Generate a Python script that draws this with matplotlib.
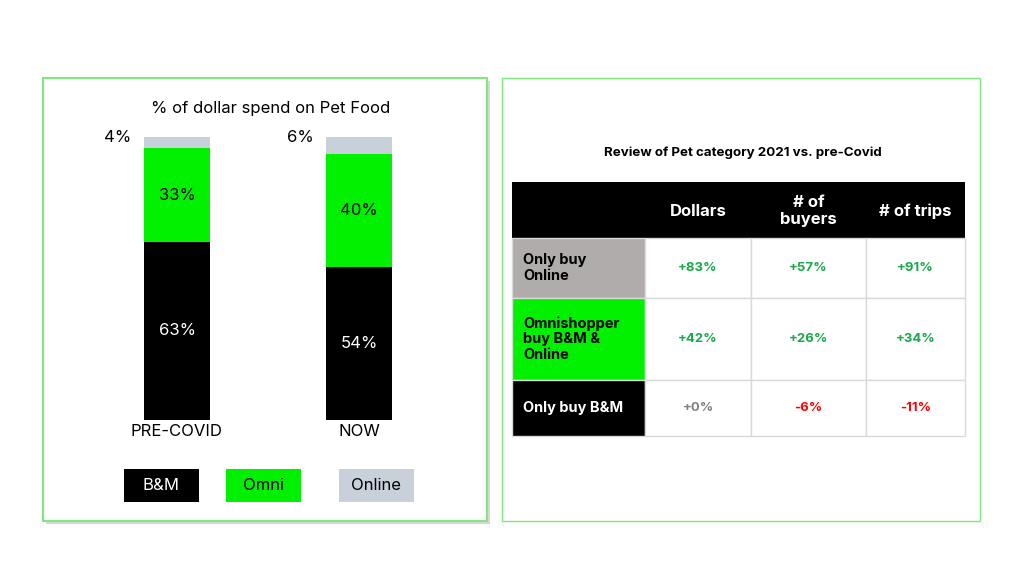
import matplotlib
matplotlib.use("Agg")
import matplotlib.pyplot as plt
import matplotlib.patches as patches

plt.rcParams['font.family'] = ['Inter', 'DejaVu Sans']

# data
periods = ["PRE-COVID", "NOW"]
bm_share = [63, 54]
omni_share = [33, 40]
online_share = [4, 6]
series_names = ["B&M", "Omni", "Online"]

table_cols = ["Dollars", "# of\nbuyers", "# of trips"]
table_rows = ["Only buy\nOnline", "Omnishopper\nbuy B&M &\nOnline", "Only buy B&M"]
table_vals = [[83, 57, 91],
              [42, 26, 34],
              [0, -6, -11]]

BLACK = "#000000"
GREEN = "#00f000"
GREY = "#c8d0d9"
BORDER = "#7fe87f"

W, H = 1024, 576
fig = plt.figure(figsize=(10.24, 5.76), dpi=100)

# full figure axes in pixel coords for panels and table
bg = fig.add_axes([0, 0, 1, 1])
bg.set_xlim(0, W)
bg.set_ylim(H, 0)
bg.axis("off")

# left panel with shadow
bg.add_patch(patches.Rectangle((46, 81), 444, 443, facecolor="#d8d8d8", edgecolor="none", zorder=0))
bg.add_patch(patches.Rectangle((43, 78), 444, 443, facecolor="white", edgecolor=BORDER, lw=1.5, zorder=1))
# right panel
bg.add_patch(patches.Rectangle((502, 78), 478, 443, facecolor="white", edgecolor=BORDER, lw=1.0, zorder=1))

bg.text(271, 108, "% of dollar spend on Pet Food", ha="center", va="center", fontsize=12, zorder=3)

# stacked bars
def px_rect(x0, y0, x1, y1):
    return [x0 / W, 1 - y1 / H, (x1 - x0) / W, (y1 - y0) / H]

ax = fig.add_axes(px_rect(86, 137, 450, 420))
ax.set_xlim(-0.5, 1.5)
ax.set_ylim(0, 100)
ax.axis("off")
xs = range(len(periods))
bw = 66 / 182
b1 = ax.bar(xs, bm_share, width=bw, color=BLACK)
b2 = ax.bar(xs, omni_share, width=bw, bottom=bm_share, color=GREEN)
tops = [a + b for a, b in zip(bm_share, omni_share)]
b3 = ax.bar(xs, online_share, width=bw, bottom=tops, color=GREY)

for i in xs:
    ax.text(i, bm_share[i] / 2, f"{bm_share[i]}%", ha="center", va="center", color="white", fontsize=12)
    ax.text(i, bm_share[i] + omni_share[i] / 2, f"{omni_share[i]}%", ha="center", va="center",
            color="black", fontsize=12)
    ax.text(i - bw / 2 - 0.07, 100, f"{online_share[i]}%", ha="right", va="center", fontsize=12)
    ax.text(i, -1.5, periods[i], ha="center", va="top", fontsize=12, clip_on=False)

# legend boxes
leg_x = [124, 226, 339]
leg_fc = [BLACK, GREEN, GREY]
leg_tc = ["white", "black", "black"]
for lx, fc, tc, name in zip(leg_x, leg_fc, leg_tc, series_names):
    bg.add_patch(patches.Rectangle((lx, 469), 75, 33, facecolor=fc, edgecolor="none", zorder=2))
    bg.text(lx + 37.5, 486, name, ha="center", va="center", color=tc, fontsize=12, zorder=3)

# table
bg.text(743, 153, "Review of Pet category 2021 vs. pre-Covid", ha="center", va="center",
        fontsize=9.6, fontweight="bold", zorder=3)
col_x = [512, 645, 751, 866, 965]
row_y = [182, 238, 298, 380, 436]
row_fc = ["#b0acab", GREEN, BLACK]
row_tc = ["black", "black", "white"]
grid = "#d9d9d9"

bg.add_patch(patches.Rectangle((col_x[0], row_y[0]), col_x[-1] - col_x[0], row_y[1] - row_y[0],
                               facecolor=BLACK, edgecolor="none", zorder=2))
for j, c in enumerate(table_cols):
    cx = (col_x[j + 1] + col_x[j + 2]) / 2
    bg.text(cx, (row_y[0] + row_y[1]) / 2 + 1, c, ha="center", va="center", color="white",
            fontsize=12, fontweight="bold", linespacing=1.1, zorder=3)

for i, r in enumerate(table_rows):
    y0, y1 = row_y[i + 1], row_y[i + 2]
    bg.add_patch(patches.Rectangle((col_x[0], y0), col_x[1] - col_x[0], y1 - y0,
                                   facecolor=row_fc[i], edgecolor=grid, lw=1, zorder=2))
    bg.text(col_x[0] + 11, (y0 + y1) / 2, r, ha="left", va="center", color=row_tc[i],
            fontsize=10.5, fontweight="bold", linespacing=1.15, zorder=3)
    for j, v in enumerate(table_vals[i]):
        x0, x1 = col_x[j + 1], col_x[j + 2]
        bg.add_patch(patches.Rectangle((x0, y0), x1 - x0, y1 - y0, facecolor="white",
                                       edgecolor=grid, lw=1, zorder=2))
        if v > 0:
            col = "#1aa84a"
        elif v < 0:
            col = "#ff0000"
        else:
            col = "#808080"
        label = f"+{v}%" if v >= 0 else f"{v}%"
        bg.text((x0 + x1) / 2, (y0 + y1) / 2, label, ha="center", va="center", color=col,
                fontsize=9.5, fontweight="bold", zorder=3)

fig.savefig("out.png", dpi=100, facecolor="white")
